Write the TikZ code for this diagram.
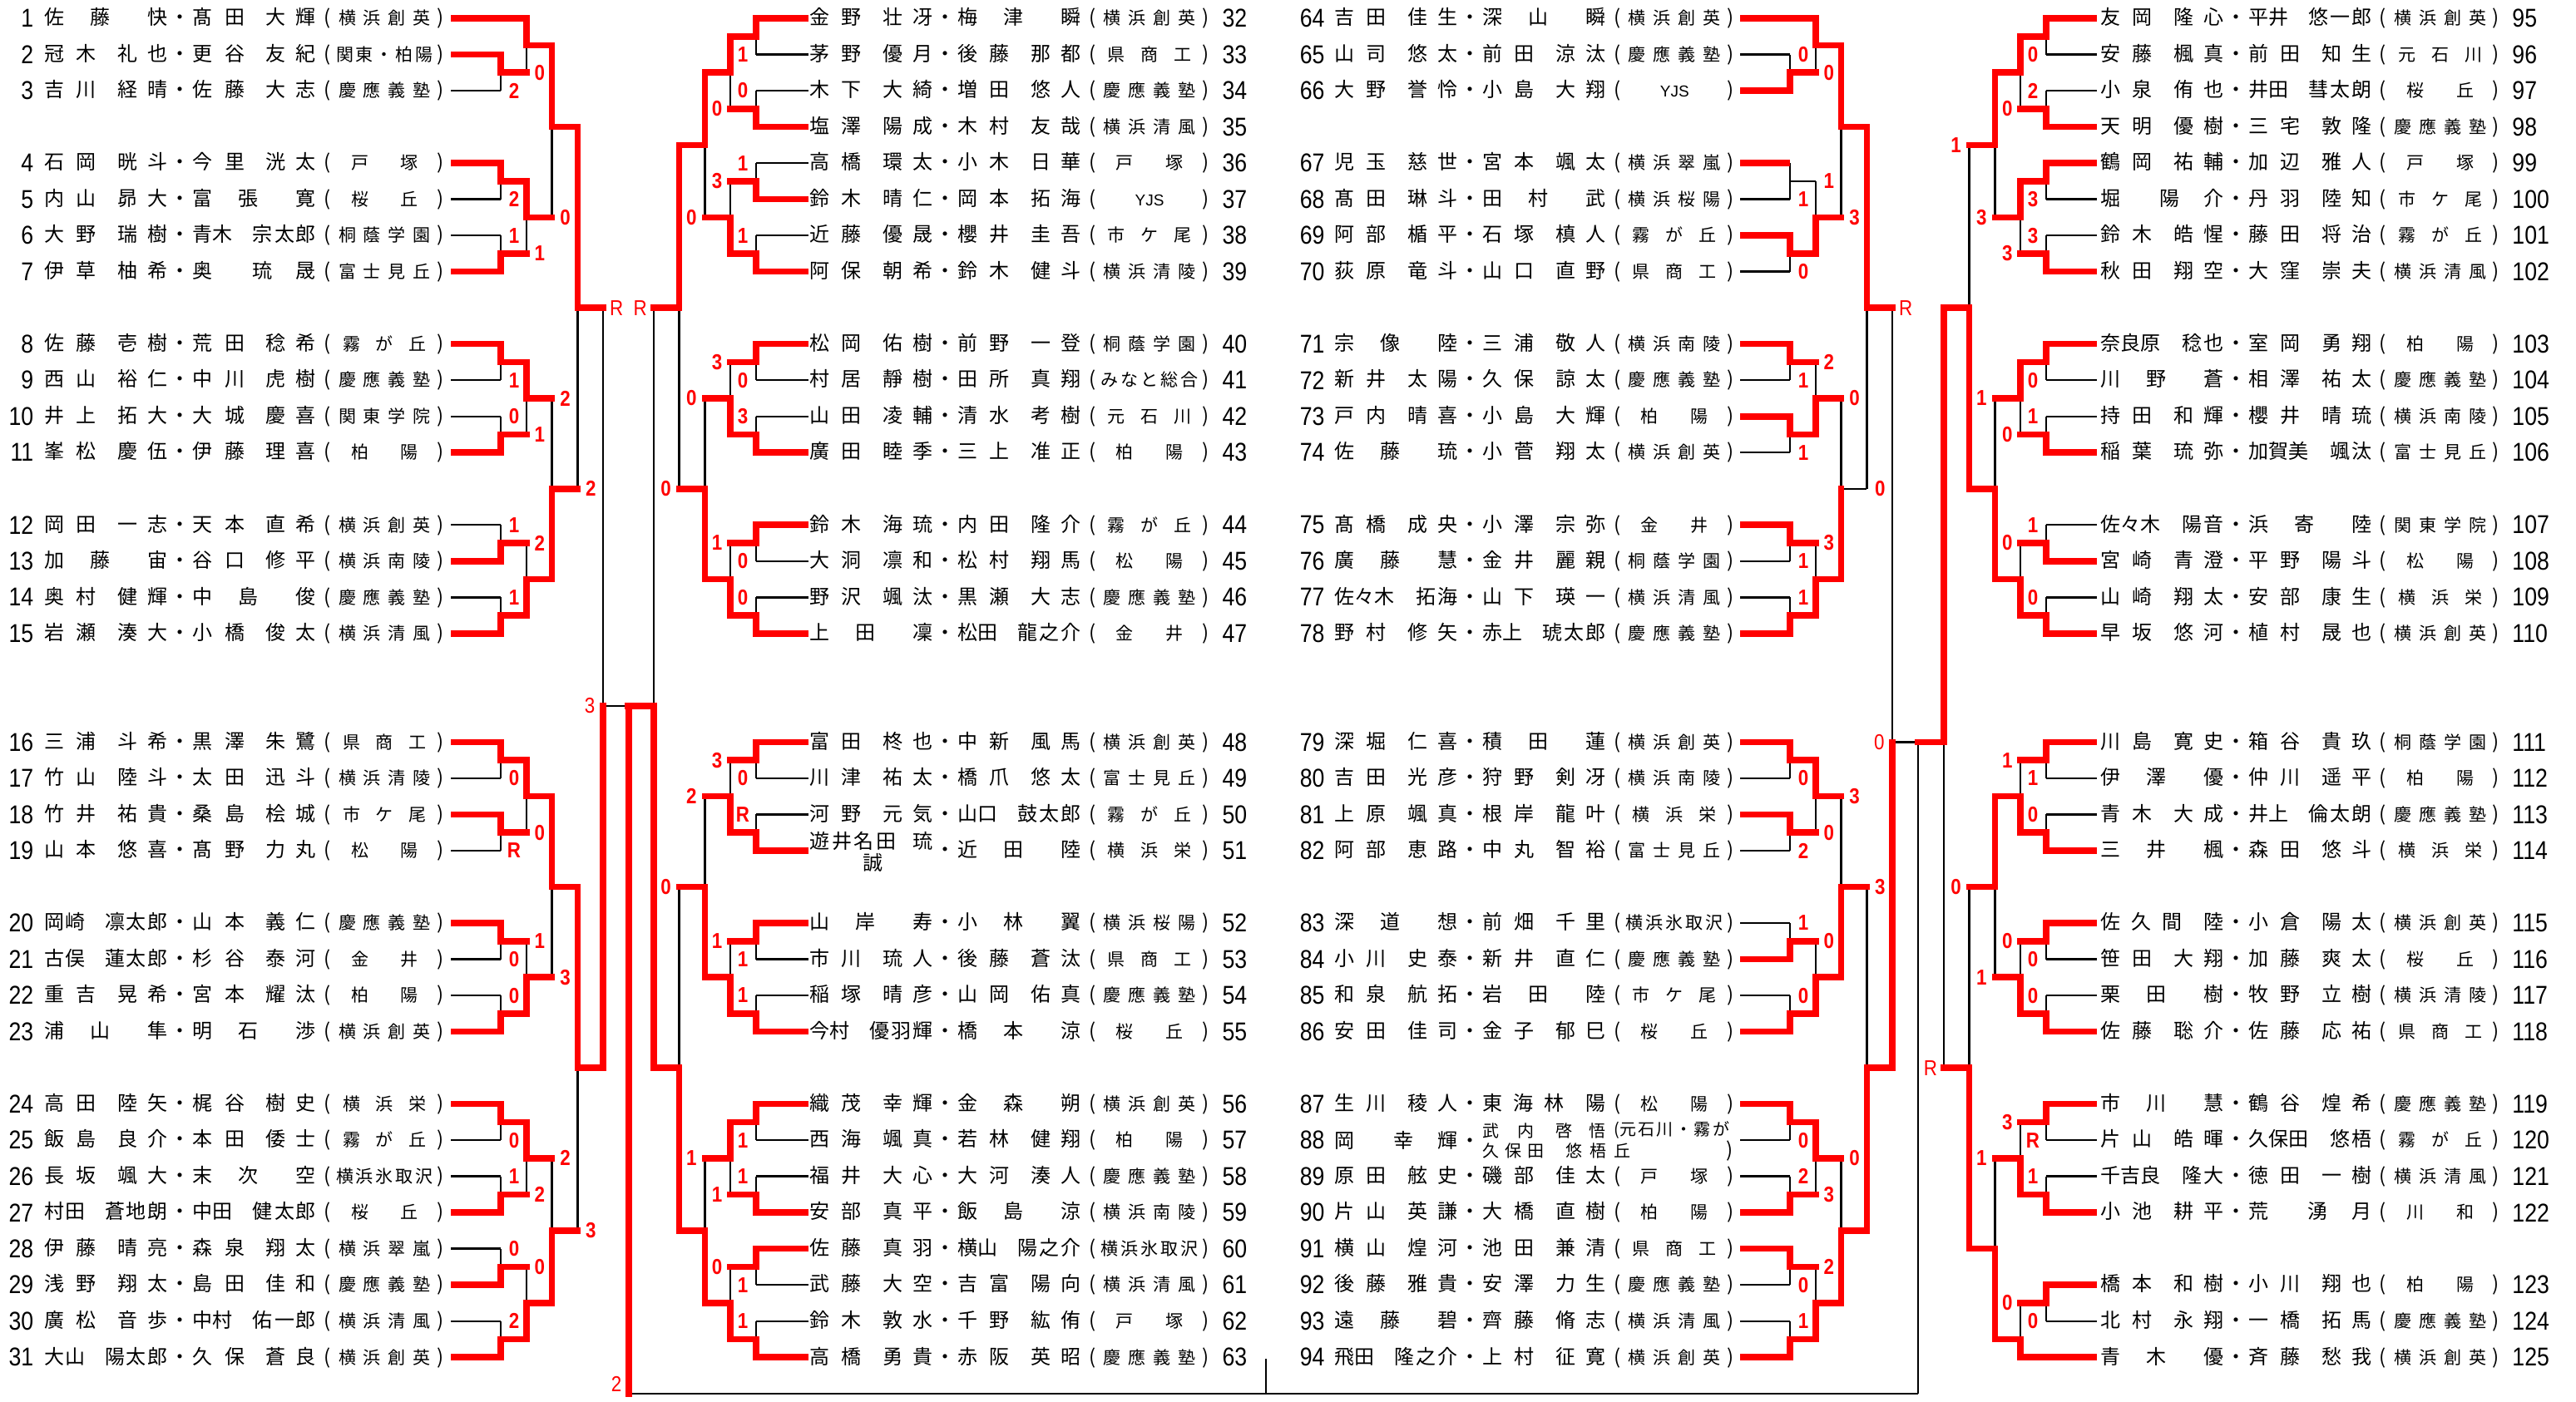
\documentclass[tikz,border=0pt]{standalone}
\usepackage{fontspec}
\setmainfont{Noto Sans CJK JP}
\newfontfamily\numfont[FakeStretch=0.86]{Liberation Sans}
\newfontfamily\yjs{Liberation Sans}
\pgfdeclarelayer{bg}
\pgfdeclarelayer{back}
\pgfsetlayers{bg,back,main}

\ExplSyntaxOn
\bool_new:N \l__bk_first_bool
\dim_new:N \l__bk_fe_dim
\dim_new:N \l__bk_gs_dim
\cs_new_protected:Npn \bk_spread:nn #1#2
  {
    \hbox_to_wd:nn {#1}
      {
        \bool_set_true:N \l__bk_first_bool
        \tl_map_inline:nn {#2}
          {
            \bool_if:NTF \l__bk_first_bool
              { \bool_set_false:N \l__bk_first_bool }
              { \hfill }
            ##1
          }
        \hfil
      }
  }
\cs_new_protected:Npn \bk_even:nn #1#2
  { \hbox_to_wd:nn {#1} { \tl_map_inline:nn {#2} { \hfil ##1 \hfil } } }
\cs_new_protected:Npn \bk_person:nn #1#2
  {
    \str_case_e:nnF { \tl_count:n {#1} \tl_count:n {#2} }
      {
        {21} { \dim_set:Nn \l__bk_fe_dim {39.5pt} \dim_set:Nn \l__bk_gs_dim {62pt} }
        {12} { \dim_set:Nn \l__bk_fe_dim {12pt} \dim_set:Nn \l__bk_gs_dim {35.5pt} }
        {23} { \dim_set:Nn \l__bk_fe_dim {24pt} \dim_set:Nn \l__bk_gs_dim {36pt} }
        {32} { \dim_set:Nn \l__bk_fe_dim {36pt} \dim_set:Nn \l__bk_gs_dim {49pt} }
        {31} { \dim_set:Nn \l__bk_fe_dim {49pt} \dim_set:Nn \l__bk_gs_dim {62pt} }
      }
      { \dim_set:Nn \l__bk_fe_dim {31pt} \dim_set:Nn \l__bk_gs_dim {44pt} }
    \hbox:n
      {
        \bk_spread:nn { \l__bk_fe_dim } {#1}
        \skip_horizontal:n { \l__bk_gs_dim - \l__bk_fe_dim }
        \bk_spread:nn { 74pt - \l__bk_gs_dim } {#2}
      }
  }
\cs_new_protected:Npn \bk_row:nnnnn #1#2#3#4#5
  {
    \hbox:n
      {
        \bk_person:nn {#1} {#2}
        \hbox_to_wd:nn {15pt} { \hss ・ \hss }
        \bk_person:nn {#3} {#4}
        \hbox_to_wd:nn {14pt} { \hss ( \hss }
        \skip_horizontal:n { -2.75pt }
        \group_begin:
          \fontsize {10.5} {12} \selectfont
          \bk_even:nn {60pt} {#5}
        \group_end:
        \hbox_to_wd:nn {7.5pt} { \hss ) \hss }
      }
  }
\NewDocumentCommand \prow {mmmmm} { \bk_row:nnnnn {#1} {#2} {#3} {#4} {#5} }
\NewDocumentCommand \prowA {mm}
  { \hbox:n { \bk_person:nn {#1} {#2} \hbox_to_wd:nn {15pt} { \hss ・ \hss } } }
\NewDocumentCommand \pperson {mm} { \bk_person:nn {#1} {#2} }
\NewDocumentCommand \spreadbox {mm} { \bk_spread:nn {#1} {#2} }
\ExplSyntaxOff

\tikzset{
  thin line/.style={line width=1.2pt},
  win line/.style={line width=3.8pt, draw=red, line cap=rect},
  win entry/.style={line width=3.8pt, draw=red},
  numtxt/.style={inner sep=0pt, font=\numfont\fontsize{15.5}{16}\selectfont},
  nametxt/.style={inner sep=0pt, anchor=west, font=\fontsize{12}{13}\selectfont},
  score/.style={inner sep=0pt, text=red, font=\numfont\bfseries\fontsize{13}{13}\selectfont},
  score lt/.style={score, font=\numfont\fontsize{13}{13}\selectfont},
  cur score/.style={score},
}

\newcounter{mtc}
% dir, name x, line start, first junction, number x, number anchor
\newcommand\usecol[6]{\def\cdir{#1}\def\cx{#2}\def\cL{#3}\def\cjA{#4}\def\cnum{#5}\def\canc{#6}}
\newcommand\jx[2]{\pgfmathsetmacro#1{\cjA+\cdir*15.4*((#2)-1)}}
\newcommand\sy[2]{\pgfmathsetmacro#1{11+21.76*(#2)}}

% number, slot, first round, red, name1, given1, name2, given2, school
\newcommand\ent[9]{%
  \sy\yy{#2}\jx\xx{#3}%
  \node[numtxt,anchor=\canc] (n#1) at (\cnum,\yy) {#1};
  \node[nametxt] (p#1) at (\cx,\yy) {\prow{#5}{#6}{#7}{#8}{#9}};
  \coordinate (e#1) at (\cL,\yy);
  \coordinate (f#1) at (\xx,\yy);
  \begin{pgfonlayer}{back}\draw[thin line] (e#1) -- (f#1);\end{pgfonlayer}
  \ifnum#4=1 \draw[win entry] (e#1) -- (f#1);\fi}

% [red mode] round, top slot, bottom slot, out slot, winner t/b, score
\newcommand\bout[7][2]{%
  \stepcounter{mtc}%
  \jx\xa{#2}\jx\xb{#2+1}%
  \sy\ya{#3}\sy\yb{#4}\sy\yo{#5}%
  \if#6t\let\yw\ya\let\yl\yb\else\let\yw\yb\let\yl\ya\fi
  \pgfmathsetmacro\xs{\xa+\cdir*8}%
  \coordinate (m\themtc t) at (\xa,\ya);
  \coordinate (m\themtc b) at (\xa,\yb);
  \coordinate (m\themtc w) at (\xa,\yw);
  \coordinate (m\themtc o) at (\xa,\yo);
  \coordinate (m\themtc n) at (\xb,\yo);
  \begin{pgfonlayer}{back}
    \draw[thin line] (m\themtc t) -- (m\themtc b);
    \draw[thin line] (m\themtc o) -- (m\themtc n);
  \end{pgfonlayer}
  \ifcase#1\or
    \draw[win line] (m\themtc w) -- (m\themtc o);
  \or
    \draw[win line] (m\themtc w) -- (m\themtc o) -- (m\themtc n);
  \fi
  \ifnum#2>4 \tikzset{cur score/.style={score lt}}\else\tikzset{cur score/.style={score}}\fi
  \node[cur score] (s\themtc) at (\xs,\yl) {#7};}

\begin{document}
\begin{tikzpicture}[x=1pt,y=-1pt]
\begin{pgfonlayer}{bg}
  \fill[white] (0,0) rectangle (1548.5,842.5);
\end{pgfonlayer}
\useasboundingbox (0,0) rectangle (1548.5,842.5);

% column 1
\usecol{1}{26.8}{271}{301}{20.3}{east}
\ent{1}{0}{2}{1}{佐藤}{快}{髙田}{大輝}{横浜創英}
\ent{2}{1}{1}{1}{冠木}{礼也}{更谷}{友紀}{関東・柏陽}
\ent{3}{2}{1}{0}{吉川}{経晴}{佐藤}{大志}{慶應義塾}
\ent{4}{4}{1}{1}{石岡}{晄斗}{今里}{洸太}{戸塚}
\ent{5}{5}{1}{0}{内山}{昴大}{富張}{寛}{桜丘}
\ent{6}{6}{1}{0}{大野}{瑞樹}{青木}{宗太郎}{桐蔭学園}
\ent{7}{7}{1}{1}{伊草}{柚希}{奥}{琉晟}{富士見丘}
\ent{8}{9}{1}{1}{佐藤}{壱樹}{荒田}{稔希}{霧が丘}
\ent{9}{10}{1}{0}{西山}{裕仁}{中川}{虎樹}{慶應義塾}
\ent{10}{11}{1}{0}{井上}{拓大}{大城}{慶喜}{関東学院}
\ent{11}{12}{1}{1}{峯松}{慶伍}{伊藤}{理喜}{柏陽}
\ent{12}{14}{1}{0}{岡田}{一志}{天本}{直希}{横浜創英}
\ent{13}{15}{1}{1}{加藤}{宙}{谷口}{修平}{横浜南陵}
\ent{14}{16}{1}{0}{奥村}{健輝}{中島}{俊}{慶應義塾}
\ent{15}{17}{1}{1}{岩瀬}{湊大}{小橋}{俊太}{横浜清風}
\ent{16}{20}{1}{1}{三浦}{斗希}{黒澤}{朱鷺}{県商工}
\ent{17}{21}{1}{0}{竹山}{陸斗}{太田}{迅斗}{横浜清陵}
\ent{18}{22}{1}{1}{竹井}{祐貴}{桑島}{桧城}{市ケ尾}
\ent{19}{23}{1}{0}{山本}{悠喜}{髙野}{力丸}{松陽}
\ent{20}{25}{1}{1}{岡崎}{凛太郎}{山本}{義仁}{慶應義塾}
\ent{21}{26}{1}{0}{古俣}{蓮太郎}{杉谷}{泰河}{金井}
\ent{22}{27}{1}{0}{重吉}{晃希}{宮本}{耀汰}{柏陽}
\ent{23}{28}{1}{1}{浦山}{隼}{明石}{渉}{横浜創英}
\ent{24}{30}{1}{1}{高田}{陸矢}{梶谷}{樹史}{横浜栄}
\ent{25}{31}{1}{0}{飯島}{良介}{本田}{倭士}{霧が丘}
\ent{26}{32}{1}{0}{長坂}{颯大}{末次}{空}{横浜氷取沢}
\ent{27}{33}{1}{1}{村田}{蒼地朗}{中田}{健太郎}{桜丘}
\ent{28}{34}{1}{0}{伊藤}{晴亮}{森泉}{翔太}{横浜翠嵐}
\ent{29}{35}{1}{1}{浅野}{翔太}{島田}{佳和}{慶應義塾}
\ent{30}{36}{1}{0}{廣松}{音歩}{中村}{佑一郎}{横浜清風}
\ent{31}{37}{1}{1}{大山}{陽太郎}{久保}{蒼良}{横浜創英}
\bout{1}{1}{2}{1.5}{t}{2}
\bout{1}{4}{5}{4.5}{t}{2}
\bout{1}{6}{7}{6.5}{b}{1}
\bout{1}{9}{10}{9.5}{t}{1}
\bout{1}{11}{12}{11.5}{b}{0}
\bout{1}{14}{15}{14.5}{b}{1}
\bout{1}{16}{17}{16.5}{b}{1}
\bout{1}{20}{21}{20.5}{t}{0}
\bout{1}{22}{23}{22.5}{t}{R}
\bout{1}{25}{26}{25.5}{t}{0}
\bout{1}{27}{28}{27.5}{b}{0}
\bout{1}{30}{31}{30.5}{t}{0}
\bout{1}{32}{33}{32.5}{b}{1}
\bout{1}{34}{35}{34.5}{b}{0}
\bout{1}{36}{37}{36.5}{b}{2}
\bout{2}{0}{1.5}{0.75}{t}{0}
\bout{2}{4.5}{6.5}{5.5}{t}{1}
\bout{2}{9.5}{11.5}{10.5}{t}{1}
\bout{2}{14.5}{16.5}{15.5}{b}{2}
\bout{2}{20.5}{22.5}{21.5}{t}{0}
\bout{2}{25.5}{27.5}{26.5}{b}{1}
\bout{2}{30.5}{32.5}{31.5}{t}{2}
\bout{2}{34.5}{36.5}{35.5}{b}{0}
\bout{3}{0.75}{5.5}{3}{t}{0}
\bout{3}{10.5}{15.5}{13}{b}{2}
\bout{3}{21.5}{26.5}{24}{t}{3}
\bout{3}{31.5}{35.5}{33.5}{b}{2}
\bout{4}{3}{13}{8}{t}{2}
\bout{4}{24}{33.5}{29}{t}{3}
\bout[1]{5}{8}{29}{19}{b}{R}

% column 2
\usecol{(-1)}{486.6}{486}{454.5}{734.6}{west}
\ent{32}{0}{1}{1}{金野}{壮冴}{梅津}{瞬}{横浜創英}
\ent{33}{1}{1}{0}{茅野}{優月}{後藤}{那都}{県商工}
\ent{34}{2}{1}{0}{木下}{大綺}{増田}{悠人}{慶應義塾}
\ent{35}{3}{1}{1}{塩澤}{陽成}{木村}{友哉}{横浜清風}
\ent{36}{4}{1}{0}{高橋}{環太}{小木}{日華}{戸塚}
\ent{37}{5}{1}{1}{鈴木}{晴仁}{岡本}{拓海}{{\yjs\fontsize{9.5}{10}\selectfont YJS}}
\ent{38}{6}{1}{0}{近藤}{優晟}{櫻井}{圭吾}{市ケ尾}
\ent{39}{7}{1}{1}{阿保}{朝希}{鈴木}{健斗}{横浜清陵}
\ent{40}{9}{1}{1}{松岡}{佑樹}{前野}{一登}{桐蔭学園}
\ent{41}{10}{1}{0}{村居}{靜樹}{田所}{真翔}{みなと総合}
\ent{42}{11}{1}{0}{山田}{凌輔}{清水}{考樹}{元石川}
\ent{43}{12}{1}{1}{廣田}{睦季}{三上}{准正}{柏陽}
\ent{44}{14}{1}{1}{鈴木}{海琉}{内田}{隆介}{霧が丘}
\ent{45}{15}{1}{0}{大洞}{凛和}{松村}{翔馬}{松陽}
\ent{46}{16}{1}{0}{野沢}{颯汰}{黒瀬}{大志}{慶應義塾}
\ent{47}{17}{1}{1}{上田}{凜}{松田}{龍之介}{金井}
\ent{48}{20}{1}{1}{富田}{柊也}{中新}{風馬}{横浜創英}
\ent{49}{21}{1}{0}{川津}{祐太}{橋爪}{悠太}{富士見丘}
\ent{50}{22}{1}{0}{河野}{元気}{山口}{鼓太郎}{霧が丘}
\ent{51}{23}{1}{1}{}{}{近田}{陸}{横浜栄}
\node[nametxt] (p51a) at (486.6,505.5) {\spreadbox{52pt}{遊井名田}};
\node[nametxt] (p51b) at (548.6,505.5) {琉};
\node[nametxt] (p51c) at (518.6,518.7) {誠};
\ent{52}{25}{1}{1}{山岸}{寿}{小林}{翼}{横浜桜陽}
\ent{53}{26}{1}{0}{市川}{琉人}{後藤}{蒼汰}{県商工}
\ent{54}{27}{1}{0}{稲塚}{晴彦}{山岡}{佑真}{慶應義塾}
\ent{55}{28}{1}{1}{今村}{優羽輝}{橋本}{涼}{桜丘}
\ent{56}{30}{1}{1}{織茂}{幸輝}{金森}{朔}{横浜創英}
\ent{57}{31}{1}{0}{西海}{颯真}{若林}{健翔}{柏陽}
\ent{58}{32}{1}{0}{福井}{大心}{大河}{湊人}{慶應義塾}
\ent{59}{33}{1}{1}{安部}{真平}{飯島}{涼}{横浜南陵}
\ent{60}{34}{1}{1}{佐藤}{真羽}{横山}{陽之介}{横浜氷取沢}
\ent{61}{35}{1}{0}{武藤}{大空}{吉富}{陽向}{横浜清風}
\ent{62}{36}{1}{0}{鈴木}{敦水}{千野}{紘侑}{戸塚}
\ent{63}{37}{1}{1}{高橋}{勇貴}{赤阪}{英昭}{慶應義塾}
\bout{1}{0}{1}{0.5}{t}{1}
\bout{1}{2}{3}{2.5}{b}{0}
\bout{1}{4}{5}{4.5}{b}{1}
\bout{1}{6}{7}{6.5}{b}{1}
\bout{1}{9}{10}{9.5}{t}{0}
\bout{1}{11}{12}{11.5}{b}{3}
\bout{1}{14}{15}{14.5}{t}{0}
\bout{1}{16}{17}{16.5}{b}{0}
\bout{1}{20}{21}{20.5}{t}{0}
\bout{1}{22}{23}{22.5}{b}{R}
\bout{1}{25}{26}{25.5}{t}{1}
\bout{1}{27}{28}{27.5}{b}{1}
\bout{1}{30}{31}{30.5}{t}{1}
\bout{1}{32}{33}{32.5}{b}{1}
\bout{1}{34}{35}{34.5}{t}{1}
\bout{1}{36}{37}{36.5}{b}{1}
\bout{2}{0.5}{2.5}{1.5}{t}{0}
\bout{2}{4.5}{6.5}{5.5}{b}{3}
\bout{2}{9.5}{11.5}{10.5}{b}{3}
\bout{2}{14.5}{16.5}{15.5}{b}{1}
\bout{2}{20.5}{22.5}{21.5}{b}{3}
\bout{2}{25.5}{27.5}{26.5}{b}{1}
\bout{2}{30.5}{32.5}{31.5}{t}{1}
\bout{2}{34.5}{36.5}{35.5}{b}{0}
\bout{3}{1.5}{5.5}{3.5}{t}{0}
\bout{3}{10.5}{15.5}{13}{b}{0}
\bout{3}{21.5}{26.5}{24}{b}{2}
\bout{3}{31.5}{35.5}{33.5}{b}{1}
\bout{4}{3.5}{13}{8}{t}{0}
\bout{4}{24}{33.5}{29}{b}{0}
\bout{5}{8}{29}{19}{b}{R}

% column 3
\usecol{1}{802.2}{1046}{1076}{796.4}{east}
\ent{64}{0}{2}{1}{吉田}{佳生}{深山}{瞬}{横浜創英}
\ent{65}{1}{1}{0}{山司}{悠太}{前田}{涼汰}{慶應義塾}
\ent{66}{2}{1}{1}{大野}{誉怜}{小島}{大翔}{{\yjs\fontsize{9.5}{10}\selectfont YJS}}
\ent{67}{4}{1}{1}{児玉}{慈世}{宮本}{颯太}{横浜翠嵐}
\ent{68}{5}{1}{0}{髙田}{琳斗}{田村}{武}{横浜桜陽}
\ent{69}{6}{1}{1}{阿部}{楯平}{石塚}{槙人}{霧が丘}
\ent{70}{7}{1}{0}{荻原}{竜斗}{山口}{直野}{県商工}
\ent{71}{9}{1}{1}{宗像}{陸}{三浦}{敬人}{横浜南陵}
\ent{72}{10}{1}{0}{新井}{太陽}{久保}{諒太}{慶應義塾}
\ent{73}{11}{1}{1}{戸内}{晴喜}{小島}{大輝}{柏陽}
\ent{74}{12}{1}{0}{佐藤}{琉}{小菅}{翔太}{横浜創英}
\ent{75}{14}{1}{1}{髙橋}{成央}{小澤}{宗弥}{金井}
\ent{76}{15}{1}{0}{廣藤}{慧}{金井}{麗親}{桐蔭学園}
\ent{77}{16}{1}{0}{佐々木}{拓海}{山下}{瑛一}{横浜清風}
\ent{78}{17}{1}{1}{野村}{修矢}{赤上}{琥太郎}{慶應義塾}
\ent{79}{20}{1}{1}{深堀}{仁喜}{積田}{蓮}{横浜創英}
\ent{80}{21}{1}{0}{吉田}{光彦}{狩野}{剣冴}{横浜南陵}
\ent{81}{22}{1}{1}{上原}{颯真}{根岸}{龍叶}{横浜栄}
\ent{82}{23}{1}{0}{阿部}{恵路}{中丸}{智裕}{富士見丘}
\ent{83}{25}{1}{0}{深道}{想}{前畑}{千里}{横浜氷取沢}
\ent{84}{26}{1}{1}{小川}{史泰}{新井}{直仁}{慶應義塾}
\ent{85}{27}{1}{0}{和泉}{航拓}{岩田}{陸}{市ケ尾}
\ent{86}{28}{1}{1}{安田}{佳司}{金子}{郁巳}{桜丘}
\ent{87}{30}{1}{1}{生川}{稜人}{東海林}{陽}{松陽}
\sy\yy{31}
\node[numtxt,anchor=east] (n88) at (796.4,\yy) {88};
\node[nametxt] (p88) at (802.2,\yy) {\prowA{岡}{幸輝}};
\node[nametxt,font=\fontsize{10}{10}\selectfont] (q88) at (891.2,679.7) {\pperson{武内}{啓悟}};
\node[nametxt,font=\fontsize{10}{10}\selectfont] (r88) at (970,679.7) {(\spreadbox{66pt}{元石川・霧が}};
\node[nametxt,font=\fontsize{10}{10}\selectfont] (t88) at (891.2,691.8) {\spreadbox{37pt}{久保田}\hspace{12.8pt}\spreadbox{39pt}{悠梧丘}};
\node[nametxt] (u88) at (1037.5,691.8) {)};
\coordinate (e88) at (1046,\yy);
\coordinate (f88) at (1076,\yy);
\begin{pgfonlayer}{back}\draw[thin line] (e88) -- (f88);\end{pgfonlayer}
\ent{89}{32}{1}{0}{原田}{舷史}{磯部}{佳太}{戸塚}
\ent{90}{33}{1}{1}{片山}{英謙}{大橋}{直樹}{柏陽}
\ent{91}{34}{1}{1}{横山}{煌河}{池田}{兼清}{県商工}
\ent{92}{35}{1}{0}{後藤}{雅貴}{安澤}{力生}{慶應義塾}
\ent{93}{36}{1}{0}{遠藤}{碧}{齊藤}{脩志}{横浜清風}
\ent{94}{37}{1}{1}{飛田}{隆之介}{上村}{征寛}{横浜創英}
\bout{1}{1}{2}{1.5}{b}{0}
\bout[0]{1}{4}{5}{4.5}{t}{1}
\bout{1}{6}{7}{6.5}{t}{0}
\bout{1}{9}{10}{9.5}{t}{1}
\bout{1}{11}{12}{11.5}{t}{1}
\bout{1}{14}{15}{14.5}{t}{1}
\bout{1}{16}{17}{16.5}{b}{1}
\bout{1}{20}{21}{20.5}{t}{0}
\bout{1}{22}{23}{22.5}{t}{2}
\bout{1}{25}{26}{25.5}{b}{1}
\bout{1}{27}{28}{27.5}{b}{0}
\bout{1}{30}{31}{30.5}{t}{0}
\bout{1}{32}{33}{32.5}{b}{2}
\bout{1}{34}{35}{34.5}{t}{0}
\bout{1}{36}{37}{36.5}{b}{1}
\bout{2}{0}{1.5}{0.75}{t}{0}
\bout{2}{4.5}{6.5}{5.5}{b}{1}
\bout{2}{9.5}{11.5}{10.5}{b}{2}
\bout{2}{14.5}{16.5}{15.5}{b}{3}
\bout{2}{20.5}{22.5}{21.5}{t}{0}
\bout{2}{25.5}{27.5}{26.5}{b}{0}
\bout{2}{30.5}{32.5}{31.5}{t}{3}
\bout{2}{34.5}{36.5}{35.5}{b}{2}
\bout{3}{0.75}{5.5}{3}{t}{3}
\bout[1]{3}{10.5}{15.5}{13}{b}{0}
\bout{3}{21.5}{26.5}{24}{b}{3}
\bout{3}{31.5}{35.5}{33.5}{b}{0}
\bout{4}{3}{13}{8}{t}{0}
\bout{4}{24}{33.5}{29}{b}{3}
\bout[1]{5}{8}{29}{20}{b}{R}

% column 4
\usecol{(-1)}{1262.3}{1260.4}{1230}{1510}{west}
\ent{95}{0}{1}{1}{友岡}{隆心}{平井}{悠一郎}{横浜創英}
\ent{96}{1}{1}{0}{安藤}{楓真}{前田}{知生}{元石川}
\ent{97}{2}{1}{0}{小泉}{侑也}{井田}{彗太朗}{桜丘}
\ent{98}{3}{1}{1}{天明}{優樹}{三宅}{敦隆}{慶應義塾}
\ent{99}{4}{1}{1}{鶴岡}{祐輔}{加辺}{雅人}{戸塚}
\ent{100}{5}{1}{0}{堀}{陽介}{丹羽}{陸知}{市ケ尾}
\ent{101}{6}{1}{0}{鈴木}{皓惺}{藤田}{将治}{霧が丘}
\ent{102}{7}{1}{1}{秋田}{翔空}{大窪}{崇夫}{横浜清風}
\ent{103}{9}{1}{1}{奈良原}{稔也}{室岡}{勇翔}{柏陽}
\ent{104}{10}{1}{0}{川野}{蒼}{相澤}{祐太}{慶應義塾}
\ent{105}{11}{1}{0}{持田}{和輝}{櫻井}{晴琉}{横浜南陵}
\ent{106}{12}{1}{1}{稲葉}{琉弥}{加賀美}{颯汰}{富士見丘}
\ent{107}{14}{1}{0}{佐々木}{陽音}{浜寄}{陸}{関東学院}
\ent{108}{15}{1}{1}{宮崎}{青澄}{平野}{陽斗}{松陽}
\ent{109}{16}{1}{0}{山崎}{翔太}{安部}{康生}{横浜栄}
\ent{110}{17}{1}{1}{早坂}{悠河}{植村}{晟也}{横浜創英}
\ent{111}{20}{1}{1}{川島}{寛史}{箱谷}{貴玖}{桐蔭学園}
\ent{112}{21}{1}{0}{伊澤}{優}{仲川}{遥平}{柏陽}
\ent{113}{22}{1}{0}{青木}{大成}{井上}{倫太朗}{慶應義塾}
\ent{114}{23}{1}{1}{三井}{楓}{森田}{悠斗}{横浜栄}
\ent{115}{25}{1}{1}{佐久間}{陸}{小倉}{陽太}{横浜創英}
\ent{116}{26}{1}{0}{笹田}{大翔}{加藤}{爽太}{桜丘}
\ent{117}{27}{1}{0}{栗田}{樹}{牧野}{立樹}{横浜清陵}
\ent{118}{28}{1}{1}{佐藤}{聡介}{佐藤}{応祐}{県商工}
\ent{119}{30}{1}{1}{市川}{慧}{鶴谷}{煌希}{慶應義塾}
\ent{120}{31}{1}{0}{片山}{皓暉}{久保田}{悠梧}{霧が丘}
\ent{121}{32}{1}{0}{千吉良}{隆大}{徳田}{一樹}{横浜清風}
\ent{122}{33}{1}{1}{小池}{耕平}{荒}{湧月}{川和}
\ent{123}{35}{1}{1}{橋本}{和樹}{小川}{翔也}{柏陽}
\ent{124}{36}{1}{0}{北村}{永翔}{一橋}{拓馬}{慶應義塾}
\ent{125}{37}{2}{1}{青木}{優}{斉藤}{愁我}{横浜創英}
\bout{1}{0}{1}{0.5}{t}{0}
\bout{1}{2}{3}{2.5}{b}{2}
\bout{1}{4}{5}{4.5}{t}{3}
\bout{1}{6}{7}{6.5}{b}{3}
\bout{1}{9}{10}{9.5}{t}{0}
\bout{1}{11}{12}{11.5}{b}{1}
\bout{1}{14}{15}{14.5}{b}{1}
\bout{1}{16}{17}{16.5}{b}{0}
\bout{1}{20}{21}{20.5}{t}{1}
\bout{1}{22}{23}{22.5}{b}{0}
\bout{1}{25}{26}{25.5}{t}{0}
\bout{1}{27}{28}{27.5}{b}{0}
\bout{1}{30}{31}{30.5}{t}{R}
\bout{1}{32}{33}{32.5}{b}{1}
\bout{1}{35}{36}{35.5}{t}{0}
\bout{2}{0.5}{2.5}{1.5}{t}{0}
\bout{2}{4.5}{6.5}{5.5}{t}{3}
\bout{2}{9.5}{11.5}{10.5}{t}{0}
\bout{2}{14.5}{16.5}{15.5}{b}{0}
\bout{2}{20.5}{22.5}{21.5}{b}{1}
\bout{2}{25.5}{27.5}{26.5}{b}{0}
\bout{2}{30.5}{32.5}{31.5}{b}{3}
\bout{2}{35.5}{37}{36.5}{b}{0}
\bout{3}{1.5}{5.5}{3.5}{t}{3}
\bout{3}{10.5}{15.5}{13}{b}{1}
\bout{3}{21.5}{26.5}{24}{t}{1}
\bout{3}{31.5}{36.5}{34}{b}{1}
\bout{4}{3.5}{13}{8}{b}{1}
\bout{4}{24}{34}{29}{b}{0}
\bout{5}{8}{29}{20}{t}{R}

% semifinals and final
\sy\ya{19}\sy\yb{20}
\coordinate (sl) at (378,\ya);
\coordinate (sr) at (1153,\yb);
\coordinate (fl) at (378,838);
\coordinate (fr) at (1153,838);
\coordinate (ct) at (761,817);
\coordinate (cb) at (761,838);
\begin{pgfonlayer}{back}
  \draw[thin line] (fl) -- (fr);
  \draw[thin line] (ct) -- (cb);
  \draw[thin line] (sr) -- (fr);
\end{pgfonlayer}
\draw[win line] (sl) -- (fl);
\node[score lt] (k1) at (354.6,\ya) {3};
\node[score lt] (k2) at (1129.6,\yb) {0};
\node[score lt] (k3) at (370.5,832) {2};
\end{tikzpicture}
\end{document}
